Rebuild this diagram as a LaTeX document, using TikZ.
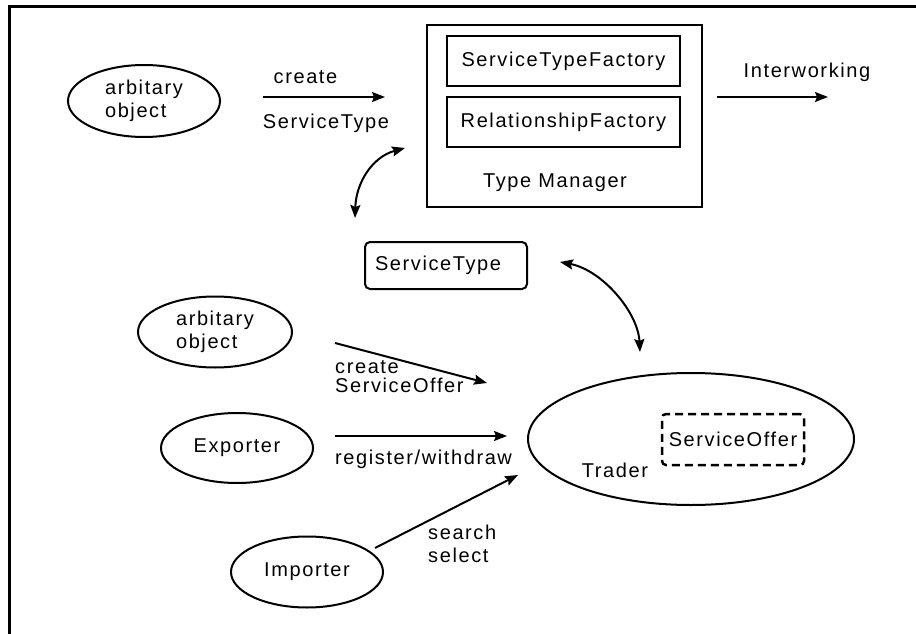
\documentclass[tikz,border=0pt]{standalone}
\usepackage{fontspec}
\setmainfont{Liberation Sans}[LetterSpace=8]
\usetikzlibrary{arrows.meta,shapes.geometric}

\tikzset{
  oval/.style={draw, ellipse, line width=2pt, inner sep=0pt, align=left},
  factory/.style={draw, line width=2pt, minimum width=233pt, minimum height=50pt, inner sep=0pt},
  lbl/.style={inner sep=0pt, align=left},
  arr/.style={line width=2pt, -{Stealth[length=13pt,width=10pt,inset=2pt]}},
  darr/.style={line width=2pt, {Stealth[length=13pt,width=10pt,inset=2pt]}-{Stealth[length=13pt,width=10pt,inset=2pt]}},
}

\begin{document}
\begin{tikzpicture}[x=1pt, y=-1pt, font=\fontsize{20}{23}\selectfont]
\useasboundingbox (0,0) rectangle (916,634);

% frame (top and left edges)
\draw[line width=3pt] (9.5,634) -- (9.5,7) -- (916,7);

% Type Manager with its factories
\node[draw, line width=2pt, minimum width=275pt, minimum height=182pt, inner sep=0pt] (tm) at (564.5,116) {};
\node[factory] (stf) at (563.5,61) {ServiceTypeFactory};
\node[factory] (rf) at (563.5,122) {RelationshipFactory};
\node[lbl] (tmlbl) at (555,183) {Type Manager};

% objects on the left
\node[oval, minimum width=152pt, minimum height=72pt] (ao1) at (144,101) {arbitary\\object};
\node[oval, minimum width=154pt, minimum height=71pt] (ao2) at (215,332) {arbitary\\object};
\node[oval, minimum width=152pt, minimum height=70pt] (exp) at (237,448) {Exporter};
\node[oval, minimum width=152pt, minimum height=71pt] (imp) at (307,572) {Importer};

% ServiceType
\node[draw, line width=2pt, rounded corners=5pt, minimum height=47pt, text width=142pt, inner xsep=10pt, inner ysep=0pt, align=left] (st) at (446,265.5) {ServiceType};

% Trader with a ServiceOffer
\node[draw, ellipse, line width=2pt, minimum width=326pt, minimum height=132pt] (tr) at (691,439) {};
\node[lbl] (trlbl) at (615,470) {Trader};
\node[draw, line width=2.5pt, dash pattern=on 8pt off 5pt, rounded corners=4pt, minimum width=142pt, minimum height=51pt, inner sep=0pt] (so) at (733,439.5) {ServiceOffer};

% connector ends
\coordinate (a1s) at (263,97);  \coordinate (a1e) at (385,97);
\coordinate (a2s) at (717,97);  \coordinate (a2e) at (828,97);
\coordinate (a3s) at (335,343); \coordinate (a3e) at (487,383);
\coordinate (a4s) at (335,436); \coordinate (a4e) at (507,436);
\coordinate (a5s) at (375,548); \coordinate (a5e) at (518,475);
\coordinate (b1s) at (405,148); \coordinate (b1e) at (355,218);
\coordinate (b2s) at (560,262); \coordinate (b2e) at (640,352);

% connectors
\draw[arr] (a1s) -- (a1e);
\draw[arr] (a2s) -- (a2e);
\draw[arr] (a3s) -- (a3e);
\draw[arr] (a4s) -- (a4e);
\draw[arr] (a5s) -- (a5e);
\draw[darr] (b1s) .. controls (372,157) and (356,183) .. (b1e);
\draw[darr] (b2s) .. controls (602,270) and (638,312) .. (b2e);

% connector labels
\node[lbl] (l1a) at (305.5,77) {create};
\node[lbl] (l1b) at (326,123) {ServiceType};
\node[lbl] (l2) at (807,72) {Interworking};
\node[lbl, anchor=west, font=\fontsize{20}{19}\selectfont] (l3) at (335,377) {create\\ServiceOffer};
\node[lbl, anchor=west] (l4) at (335,459) {register/withdraw};
\node[lbl, anchor=west] (l5) at (428,543.5) {search\\select};
\end{tikzpicture}
\end{document}
